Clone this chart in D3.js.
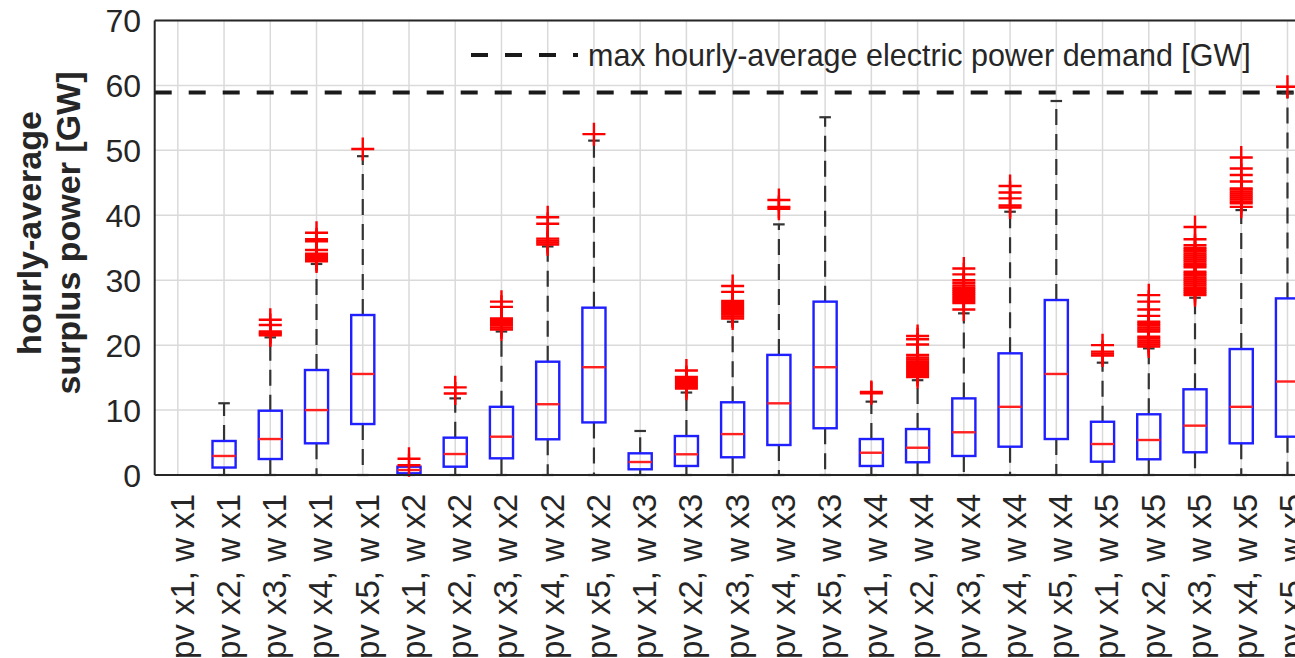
<!DOCTYPE html>
<html>
<head>
<meta charset="utf-8">
<script src="https://cdn.jsdelivr.net/npm/d3@7"></script>
<style>
  html, body { margin: 0; padding: 0; background: #fff; overflow: hidden; }
  svg { display: block; font-family: "Liberation Sans", Arial, Helvetica, sans-serif; }
</style>
</head>
<body>
<svg id="chart" width="1295" height="658"></svg>
<script>
// ---------------- DATA ----------------
const categories = [
  "pv x1, w x1","pv x2, w x1","pv x3, w x1","pv x4, w x1","pv x5, w x1",
  "pv x1, w x2","pv x2, w x2","pv x3, w x2","pv x4, w x2","pv x5, w x2",
  "pv x1, w x3","pv x2, w x3","pv x3, w x3","pv x4, w x3","pv x5, w x3",
  "pv x1, w x4","pv x2, w x4","pv x3, w x4","pv x4, w x4","pv x5, w x4",
  "pv x1, w x5","pv x2, w x5","pv x3, w x5","pv x4, w x5","pv x5, w x5"
];
const q1Values     = [null, 1.15, 2.46, 4.88, 7.85, 0.26, 1.28, 2.57, 5.5, 8.1, 0.88, 1.39, 2.73, 4.62, 7.2, 1.39, 1.96, 2.93, 4.36, 5.54, 2.05, 2.42, 3.5, 4.88, 5.9];
const medianValues = [null, 2.93, 5.54, 10.0, 15.56, 0.77, 3.23, 5.9, 10.9, 16.6, 2.0, 3.19, 6.3, 11.04, 16.6, 3.43, 4.2, 6.58, 10.5, 15.56, 4.77, 5.39, 7.6, 10.5, 14.4];
const q3Values     = [null, 5.24, 9.9, 16.17, 24.64, 1.28, 5.75, 10.5, 17.45, 25.77, 3.34, 6.0, 11.2, 18.5, 26.7, 5.54, 7.08, 11.8, 18.74, 26.95, 8.2, 9.35, 13.2, 19.4, 27.2];
const whiskerLow   = [null, 0, 0, 0, 0, 0, 0, 0, 0, 0, 0, 0, 0, 0, 0, 0, 0, 0, 0, 0, 0, 0, 0, 0, 0];
const whiskerHigh  = [null, 11.05, 21.2, 32.5, 49.1, 1.4, 11.8, 22.1, 35.2, 51.5, 6.78, 12.7, 23.6, 38.6, 55.1, 11.3, 14.6, 24.9, 40.55, 57.6, 17.3, 19.5, 27.3, 40.8, 58.8];
const outliers = [
  [],
  [],
  [21.5, 21.7, 21.9, 22.1, 23.1, 23.9],
  [32.9, 33.1, 33.3, 33.5, 33.7, 33.9, 34.1, 34.65, 36.0, 36.3, 37.3],
  [50.2],
  [1.5, 2.5],
  [12.55, 13.5],
  [22.4, 22.7, 23.0, 23.3, 23.6, 23.9, 24.1, 25.9, 26.7],
  [35.5, 35.8, 36.1, 36.4, 38.7, 39.7],
  [52.5],
  [],
  [13.3, 13.6, 13.9, 14.2, 14.5, 14.8, 15.1, 16.1],
  [24.1, 24.4, 24.7, 25.0, 25.3, 25.6, 25.9, 26.2, 26.5, 26.8, 28.2, 29.1],
  [41.0, 41.3, 42.35],
  [],
  [12.6, 12.8],
  [15.1, 15.4, 15.7, 16.0, 16.3, 16.6, 16.9, 17.2, 17.5, 17.8, 18.1, 18.5, 20.1, 20.9, 21.4],
  [25.5, 26.5, 26.8, 27.1, 27.4, 27.7, 28.0, 28.3, 28.6, 28.9, 29.2, 29.6, 30.0, 30.9, 31.8],
  [41.2, 41.5, 42.6, 43.5, 44.5],
  [],
  [18.4, 18.7, 19.0, 20.0],
  [19.8, 20.1, 20.4, 20.7, 21.0, 21.3, 22.1, 22.4, 22.7, 23.0, 23.3, 23.6, 24.5, 25.5, 26.7, 27.7],
  [27.7, 28.0, 28.3, 28.6, 28.9, 29.2, 29.5, 29.8, 30.1, 30.4, 30.7, 31.0, 31.3, 32.0, 32.3, 32.6, 32.9, 33.2, 33.5, 33.8, 34.1, 34.4, 34.7, 35.0, 35.4, 36.3, 38.2],
  [41.3, 41.85, 42.15, 42.45, 42.75, 43.05, 43.35, 43.65, 43.95, 44.15, 45.2, 46.2, 47.2, 48.9],
  [59.8]
];
const yTicks = [0, 10, 20, 30, 40, 50, 60, 70];
const demandMax = 58.9;
const legendLabel = "max hourly-average electric power demand [GW]";
const yLabelLines = ["hourly-average", "surplus power [GW]"];

(function draw() {
  const svg = d3.select("#chart");
  const pLeft = 154.7, pRight = 1310.6, pTop = 20.5, pBottom = 475;
  const x = d3.scaleBand().domain(categories).range([pLeft, pRight]).paddingInner(0).paddingOuter(0);
  const y = d3.scaleLinear().domain([0, 70]).range([pBottom, pTop]);
  const bw = x.bandwidth();
  const boxW = bw * 0.5;
  const capW = bw * 0.25;
  const cx = c => x(c) + bw / 2;
  const textColor = "#262626";

  // grid
  const grid = svg.append("g");
  grid.selectAll(null).data(categories).enter().append("line")
    .attr("x1", d => cx(d)).attr("x2", d => cx(d)).attr("y1", pTop).attr("y2", pBottom)
    .attr("stroke", "#dadada").attr("stroke-width", 1.5);
  grid.selectAll(null).data(yTicks).enter().append("line")
    .attr("x1", pLeft).attr("x2", pRight).attr("y1", d => y(d)).attr("y2", d => y(d))
    .attr("stroke", "#dadada").attr("stroke-width", 1.5);

  // demand line
  const dashPat = "17,17";
  svg.append("line")
    .attr("x1", pLeft).attr("x2", pRight).attr("y1", y(demandMax)).attr("y2", y(demandMax))
    .attr("stroke", "#1a1a1a").attr("stroke-width", 4).attr("stroke-dasharray", dashPat);

  const idx = d3.range(categories.length).filter(i => q1Values[i] !== null);
  const g = svg.append("g");
  // whiskers
  idx.forEach(i => {
    const c = cx(categories[i]);
    g.append("line").attr("x1", c).attr("x2", c)
      .attr("y1", y(q3Values[i])).attr("y2", y(whiskerHigh[i]))
      .attr("stroke", "#333").attr("stroke-width", 2.2).attr("stroke-dasharray", "16,9");
    g.append("line").attr("x1", c).attr("x2", c)
      .attr("y1", y(q1Values[i])).attr("y2", y(whiskerLow[i]))
      .attr("stroke", "#333").attr("stroke-width", 2.2).attr("stroke-dasharray", "16,9");
    [whiskerHigh[i], whiskerLow[i]].forEach(v => {
      g.append("line").attr("x1", c - capW / 2).attr("x2", c + capW / 2)
        .attr("y1", y(v)).attr("y2", y(v))
        .attr("stroke", "#333").attr("stroke-width", 2.2);
    });
  });
  // boxes + medians
  idx.forEach(i => {
    const c = cx(categories[i]);
    g.append("rect")
      .attr("x", c - boxW / 2).attr("width", boxW)
      .attr("y", y(q3Values[i])).attr("height", y(q1Values[i]) - y(q3Values[i]))
      .attr("fill", "none").attr("stroke", "#1f1fff").attr("stroke-width", 2.4);
    g.append("line").attr("x1", c - boxW / 2).attr("x2", c + boxW / 2)
      .attr("y1", y(medianValues[i])).attr("y2", y(medianValues[i]))
      .attr("stroke", "#ff2020").attr("stroke-width", 2.4);
  });
  // outliers
  const ms = 11.5;
  categories.forEach((cat, i) => {
    const c = cx(cat);
    g.selectAll(null).data(outliers[i]).enter().append("path")
      .attr("d", `M${-ms},0H${ms}M0,${-ms}V${ms}`)
      .attr("transform", d => `translate(${c},${y(d)})`)
      .attr("stroke", "#ff0000").attr("stroke-width", 2.4).attr("fill", "none");
  });

  // axes frame
  svg.append("line").attr("x1", pLeft).attr("x2", pLeft).attr("y1", pTop).attr("y2", pBottom)
    .attr("stroke", textColor).attr("stroke-width", 2);
  svg.append("line").attr("x1", pLeft).attr("x2", pRight).attr("y1", pBottom).attr("y2", pBottom)
    .attr("stroke", textColor).attr("stroke-width", 2);
  svg.append("line").attr("x1", pLeft).attr("x2", pRight).attr("y1", pTop).attr("y2", pTop)
    .attr("stroke", textColor).attr("stroke-width", 2);

  // y tick labels
  svg.append("g").selectAll("text").data(yTicks).enter().append("text")
    .attr("x", 141).attr("y", d => y(d)).attr("dy", "0.36em")
    .attr("text-anchor", "end").attr("font-size", 32).attr("fill", textColor)
    .text(d => d);

  // x tick labels
  svg.append("g").selectAll("text").data(categories).enter().append("text")
    .attr("transform", d => `translate(${cx(d) + 4},${pBottom + 19}) rotate(-90)`)
    .attr("text-anchor", "end").attr("dy", "0.36em")
    .attr("font-size", 33).attr("fill", textColor)
    .text(d => d);

  // y label
  const yl = svg.append("text").attr("font-weight", "bold").attr("font-size", 34).attr("fill", textColor)
    .attr("text-anchor", "middle")
    .attr("transform", `translate(0,233) rotate(-90)`);
  yl.append("tspan").attr("x", 0).attr("y", 41).text(yLabelLines[0]);
  yl.append("tspan").attr("x", 0).attr("y", 80).text(yLabelLines[1]);

  // legend
  svg.append("line").attr("x1", 471).attr("x2", 578).attr("y1", 55).attr("y2", 55)
    .attr("stroke", "#1a1a1a").attr("stroke-width", 4).attr("stroke-dasharray", dashPat);
  svg.append("text").attr("x", 588).attr("y", 55).attr("dy", "0.36em")
    .attr("font-size", 30.5).attr("fill", textColor).text(legendLabel);
})();
</script>
</body>
</html>
